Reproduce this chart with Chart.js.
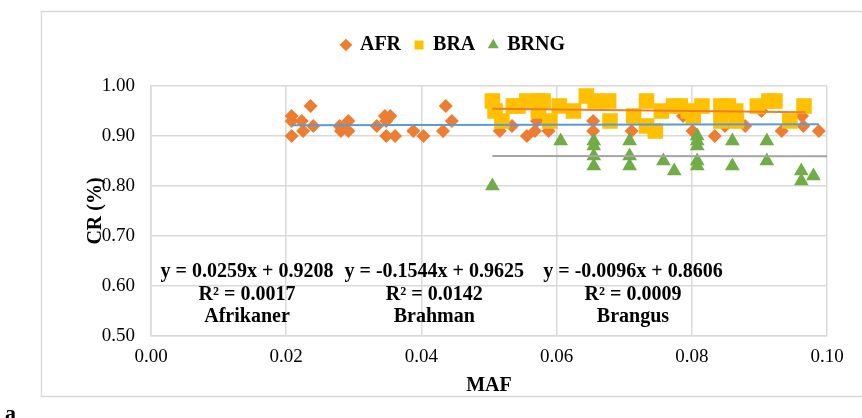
<!DOCTYPE html>
<html>
<head>
<meta charset="utf-8">
<script src="https://cdn.jsdelivr.net/npm/chart.js@4.4.0/dist/chart.umd.min.js"></script>
<style>
  html, body { margin: 0; padding: 0; background: #fff; }
  #wrap { width: 862px; height: 418px; }
</style>
</head>
<body>
<div id="wrap"><canvas id="cr" width="862" height="418"></canvas></div>
<script>
// call rate vs minor allele frequency, three breeds
const afrMaf = [0.0208, 0.0208, 0.0208, 0.0223, 0.0225, 0.0236, 0.0240, 0.0279, 0.0281, 0.0292, 0.0292,
  0.0334, 0.0346, 0.0348, 0.0354, 0.0348, 0.0361, 0.0388, 0.0403, 0.0432, 0.0436, 0.0445,
  0.0516, 0.0534, 0.0556, 0.0568, 0.0571, 0.0588, 0.0654, 0.0654, 0.0711, 0.0787, 0.0801,
  0.0834, 0.0849, 0.0879, 0.0903, 0.0933, 0.0963, 0.0965, 0.0988];
const afrCr = [0.94, 0.93, 0.90, 0.93, 0.91, 0.96, 0.92, 0.92, 0.91, 0.93, 0.91,
  0.92, 0.94, 0.93, 0.94, 0.90, 0.90, 0.91, 0.90, 0.91, 0.96, 0.93,
  0.91, 0.92, 0.90, 0.91, 0.93, 0.91, 0.93, 0.91, 0.91, 0.94, 0.91,
  0.90, 0.92, 0.92, 0.95, 0.91, 0.94, 0.92, 0.91];

const braMaf = [0.0505, 0.0509, 0.0519, 0.0536, 0.0543, 0.0556, 0.0573, 0.0573, 0.0580, 0.0590, 0.0604,
  0.0625, 0.0644, 0.0657, 0.0677, 0.0679, 0.0714, 0.0733, 0.0733, 0.0746, 0.0755, 0.0773, 0.0783,
  0.0795, 0.0802, 0.0815, 0.0843, 0.0843, 0.0854, 0.0865, 0.0866, 0.0897, 0.0914, 0.0923, 0.0945, 0.0966];
const braCr = [0.97, 0.95, 0.93, 0.96, 0.96, 0.97, 0.97, 0.95, 0.97, 0.93, 0.96,
  0.95, 0.98, 0.97, 0.97, 0.93, 0.94, 0.97, 0.92, 0.91, 0.95, 0.96, 0.96,
  0.95, 0.94, 0.96, 0.96, 0.93, 0.96, 0.95, 0.93, 0.96, 0.97, 0.97, 0.93, 0.96];

const brngMaf = [0.0505, 0.0606, 0.0655, 0.0655, 0.0655, 0.0655, 0.0708, 0.0708, 0.0708, 0.0758, 0.0774,
  0.0808, 0.0808, 0.0808, 0.0808, 0.0808, 0.0860, 0.0860, 0.0911, 0.0911, 0.0962, 0.0962, 0.0980];
const brngCr = [0.80, 0.89, 0.89, 0.88, 0.86, 0.84, 0.89, 0.86, 0.84, 0.85, 0.83,
  0.90, 0.89, 0.88, 0.85, 0.84, 0.89, 0.84, 0.89, 0.85, 0.83, 0.81, 0.82];

// linear trends: slope, intercept, x span, R²
const trendNames = ["Afrikaner", "Brahman", "Brangus"];
const trendSlope = [0.0259, -0.1544, -0.0096];
const trendIntercept = [0.9208, 0.9625, 0.8606];
const trendR2 = ["0.0017", "0.0142", "0.0009"];
const trendFrom = [0.0208, 0.0505, 0.0505];
const trendTo = [0.0988, 0.0968, 0.1000];
const trendColors = ["#5B9BD5", "#ED7D31", "#A5A5A5"];
// where each equation block is centred along MAF
const labelMaf = [0.0142, 0.0419, 0.0713];

const xTicks = [0, 0.02, 0.04, 0.06, 0.08, 0.10];
const yTicks = [0.5, 0.6, 0.7, 0.8, 0.9, 1.0];

const serif = "'Liberation Serif', 'Times New Roman', serif";

function pts(xs, ys) {
  return xs.map((x, i) => ({ x: x, y: ys[i] }));
}

function trendLine(i) {
  const f = x => trendSlope[i] * x + trendIntercept[i];
  return [{ x: trendFrom[i], y: f(trendFrom[i]) }, { x: trendTo[i], y: f(trendTo[i]) }];
}

const datasets = [
  { label: "AFR", data: pts(afrMaf, afrCr), pointStyle: "rectRot", pointRadius: 7,
    backgroundColor: "#ED7D31", borderWidth: 0, order: 3 },
  { label: "BRA", data: pts(braMaf, braCr), pointStyle: "rect", pointRadius: 11,
    backgroundColor: "#FFC000", borderWidth: 0, order: 2 },
  { label: "BRNG", data: pts(brngMaf, brngCr), pointStyle: "triangle", pointRadius: 8.5,
    backgroundColor: "#70AD47", borderWidth: 0, order: 1 }
];
trendNames.forEach((n, i) => {
  datasets.push({
    type: "line", label: "trend " + n, data: trendLine(i),
    borderColor: trendColors[i], borderWidth: 2, pointRadius: 0, fill: false, order: 0
  });
});

// figure frame, panel letter and the regression equations
const decorations = {
  id: "decorations",
  beforeInit(chart) {
    // leave more room between the legend and the plot
    const fit = chart.legend.fit;
    chart.legend.fit = function () {
      fit.call(this);
      this.height += 21;
    };
  },
  beforeDraw(chart) {
    const ctx = chart.ctx;
    ctx.save();
    ctx.fillStyle = "#fff";
    ctx.fillRect(0, 0, chart.width, chart.height);
    ctx.strokeStyle = "#D9D9D9";
    ctx.lineWidth = 1.5;
    ctx.strokeRect(41.5, 11.5, 900, 385);
    ctx.restore();
  },
  afterDraw(chart) {
    const { ctx, scales: { x, y } } = chart;
    ctx.save();
    ctx.fillStyle = "#000";
    ctx.textAlign = "center";
    ctx.textBaseline = "middle";
    ctx.font = "bold 20px " + serif;
    trendNames.forEach((n, i) => {
      const cx = x.getPixelForValue(labelMaf[i]);
      const b = trendIntercept[i];
      const m = trendSlope[i];
      const eq = "y = " + m.toFixed(4) + "x + " + b.toFixed(4);
      ctx.fillText(eq, cx, y.getPixelForValue(0.628));
      ctx.fillText("R\u00B2 = " + trendR2[i], cx, y.getPixelForValue(0.582));
      ctx.fillText(n, cx, y.getPixelForValue(0.538));
    });
    ctx.textAlign = "left";
    ctx.font = "bold 22px " + serif;
    ctx.fillText("a", 5, 414);
    ctx.restore();
  }
};

new Chart(document.getElementById("cr"), {
  type: "scatter",
  data: { datasets },
  options: {
    responsive: false,
    animation: false,
    devicePixelRatio: 1,
    layout: { padding: { left: 80, right: 35, top: 21, bottom: 20 } },
    plugins: {
      legend: {
        position: "top",
        labels: {
          usePointStyle: true,
          boxWidth: 8,
          boxHeight: 9,
          padding: 14,
          color: "#000",
          font: { family: serif, size: 20, weight: "bold" },
          filter: item => !item.text.startsWith("trend"),
          sort: (a, b) => a.datasetIndex - b.datasetIndex
        }
      },
      tooltip: { enabled: false }
    },
    scales: {
      x: {
        type: "linear",
        min: 0, max: 0.1,
        afterBuildTicks: s => { s.ticks = xTicks.map(v => ({ value: v })); },
        ticks: { color: "#000", padding: 10, font: { family: serif, size: 19 },
          callback: v => v.toFixed(2) },
        grid: { color: "#D9D9D9", lineWidth: 1.5, drawTicks: false },
        border: { color: "#D9D9D9", width: 1.5 },
        title: { display: true, text: "MAF", color: "#000", padding: { top: 4, bottom: 0 },
          font: { family: serif, size: 20, weight: "bold" } },
        afterFit: s => { s.height = 62; }
      },
      y: {
        min: 0.5, max: 1.0,
        afterBuildTicks: s => { s.ticks = yTicks.map(v => ({ value: v })); },
        ticks: { color: "#000", padding: 16, font: { family: serif, size: 19 },
          callback: v => v.toFixed(2) },
        grid: { color: "#D9D9D9", lineWidth: 1.5, drawTicks: false },
        border: { color: "#D9D9D9", width: 1.5 },
        title: { display: true, text: "CR (%)", color: "#000", padding: { top: 4, bottom: 0 },
          font: { family: serif, size: 20, weight: "bold" } },
        afterFit: s => { s.width = 71; }
      }
    }
  },
  plugins: [decorations]
});
</script>
</body>
</html>
